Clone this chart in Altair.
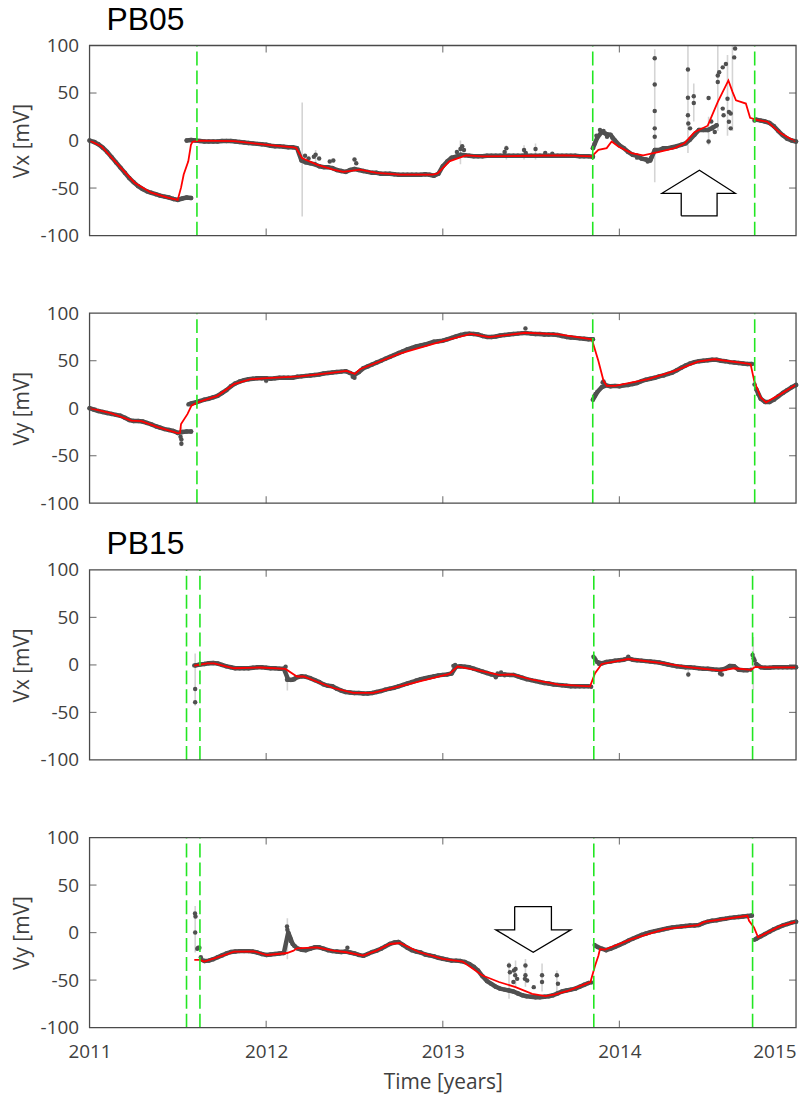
import altair as alt
import pandas as pd

# Sampling interval (years) of the regularly spaced potential readings
STEP = 0.025

YEAR_LABELS = [2011, 2012, 2013, 2014, 2015]
INNER_YEARS = [2012, 2013, 2014]
MV_LABELS = [-100, -50, 0, 50, 100]
INNER_MV = [-50, 0, 50]

# ---------------- PB05, Vx ----------------
pb05_vx_runs = [
    (2011.000, [0, -1.5, -4, -7.5, -12, -17.5, -23, -28.5, -34, -39.5, -44, -48, -51, -53.5,
                -55, -56.5, -58, -59, -60, -61.5, -62.5, -61, -60, -60.5]),
    (2011.550, [0, 0.5, 0, -0.5, -1, -1, -1, -1, -0.5, -0.5, -0.5, -1, -1.5, -2, -2.5, -3, -3.5,
                -4, -4.5, -5.5, -6, -6, -6.5, -7, -7, -8, -21, -23, -24, -25, -27, -28, -28, -29,
                -31, -32, -33, -31, -30, -31, -32, -33, -34, -34, -35, -35, -35, -35.5, -36, -36,
                -36, -36, -36, -36, -35.5, -36, -37, -35, -27, -22, -18, -17, -15, -15.5, -16,
                -16.5, -16.5, -16.5, -16, -16, -16, -16, -16, -16, -16, -16, -16, -16, -16, -16,
                -16, -16, -16, -16, -16, -16, -16, -16, -16, -16.5, -16.5, -16.5, -17]),
    (2013.850, [-8, 3, 9, 7, 6, 0, -5, -8, -12, -15, -16, -19, -20, -21, -10, -10, -8, -8, -7,
                -6, -4.5, -3, 1, 6, 11, 11, 11, 13, 16]),
    (2014.775, [22, 21, 20, 18.5, 15, 10, 5.5, 2, 0, -1]),
]
pb05_vx_extra = [
    (2012.22, -16), (2012.24, -19), (2012.27, -17), (2012.28, -15), (2012.30, -19),
    (2012.36, -22), (2012.38, -21), (2012.50, -20), (2012.51, -24), (2013.08, -12),
    (2013.10, -9), (2013.11, -6), (2013.12, -10), (2013.35, -12), (2013.36, -8),
    (2013.46, -10), (2013.47, -13), (2013.525, -9), (2013.58, -13), (2013.62, -14),
    (2013.86, -3), (2013.87, 5), (2013.89, 11), (2013.91, 10), (2013.93, 4), (2013.96, 3),
    (2014.10, -18), (2014.16, -22), (2014.18, -18),
    (2014.20, 86.5), (2014.20, 59), (2014.20, 31), (2014.20, 12.8), (2014.20, 4),
    (2014.388, 74.7), (2014.388, 45), (2014.421, 46.5), (2014.421, 39.6), (2014.388, 26.7),
    (2014.39, 18), (2014.40, 12.8), (2014.52, 20), (2014.53, 14), (2014.54, 9),
    (2014.505, -1), (2014.505, 44.8), (2014.557, 68.4), (2014.565, 71.9), (2014.585, 77),
    (2014.603, 80.5), (2014.557, 61.5), (2014.585, 33.6), (2014.59, 26.7), (2014.612, 44),
    (2014.62, 30), (2014.62, 19.8), (2014.63, 28.5), (2014.63, 12.8), (2014.65, 87.5),
    (2014.655, 96.9), (2014.765, 21),
]
pb05_vx_err = [
    (2012.204, -80, 40), (2014.20, -44, 96), (2014.388, -13, 100), (2014.421, 20, 60),
    (2014.505, -5, 25), (2014.557, 10, 100), (2014.612, 5, 90), (2014.64, 10, 100),
    (2013.10, -25, 0), (2013.36, -20, -5), (2013.46, -20, -5), (2012.28, -28, -10),
    (2013.525, -20, -3),
]
pb05_vx_fit = [
    (2011.0, 0), (2011.068, -6.3), (2011.161, -25.3), (2011.255, -44.4), (2011.349, -54.9),
    (2011.443, -60), (2011.499, -62.5), (2011.518, -49.6), (2011.533, -35.8), (2011.559, -21.9),
    (2011.574, -4.5), (2011.583, -1.4), (2011.62, 0), (2011.818, -0.7), (2012.006, -4.5),
    (2012.155, -7.3), (2012.17, -7.8), (2012.203, -18.4), (2012.287, -25.3), (2012.38, -30.6),
    (2012.437, -33), (2012.531, -30.6), (2012.625, -34), (2012.756, -35.8), (2012.943, -35.8),
    (2012.971, -34.5), (2013.037, -21.9), (2013.131, -15.6), (2013.225, -16.7), (2013.506, -16),
    (2013.694, -15.6), (2013.844, -16.7), (2013.881, -9.7), (2013.928, -8), (2013.956, -1),
    (2013.994, -6.25), (2014.069, -13.2), (2014.134, -15.6), (2014.219, -12.2), (2014.313, -8),
    (2014.369, -2.8), (2014.425, 8.7), (2014.5, 15.6), (2014.557, 40.6), (2014.617, 63.2),
    (2014.641, 51), (2014.66, 42.4), (2014.716, 38.9), (2014.74, 24), (2014.782, 21.5),
    (2014.838, 19.8), (2014.913, 7.6), (2014.997, -1),
]

# ---------------- PB05, Vy ----------------
pb05_vy_runs = [
    (2011.000, [0, -1.5, -3, -4, -5, -6, -7, -8, -10, -12.5, -13.5, -13.5, -14, -15.5, -17, -19,
                -20.5, -22, -23, -24, -26, -25, -24.5, -24.5]),
    (2011.575, [5, 6, 7.5, 9, 10, 11.5, 13, 16, 19, 23, 26, 28, 29.5, 30.5, 31, 31.5, 31.5, 31.5,
                31, 31.5, 32, 32, 32, 32, 33, 33.5, 34, 34.5, 35, 35.5, 36.5, 37, 37.5, 38, 38.5,
                39, 37, 35, 38, 42, 44, 46, 48, 50, 52, 54, 56, 58, 60, 62, 63.5, 65, 66, 67,
                68.5, 70, 70.5, 71, 72.5, 74, 75.5, 77, 78, 78.5, 78, 77.5, 76, 75, 75, 75.5,
                76.5, 77, 77.5, 78, 78.5, 79, 79, 78.5, 78, 78, 77.5, 77.5, 77.5, 77, 76, 75,
                74.5, 74, 73.5, 73, 72.5, 72.5]),
    (2013.850, [9, 17, 22, 24, 23, 23.5, 23, 24, 24.5, 25.5, 26.5, 28.5, 30, 31, 32, 33.5, 34.5,
                36, 37.5, 40, 42.5, 45, 47, 48.5, 49.5, 50, 50.5, 51, 51, 50, 49.5, 48.5, 48,
                47.5, 47, 46.5, 46.5]),
    (2014.775, [20, 10, 6.5, 6.5, 9, 12.5, 16, 19, 22, 24.5]),
]
pb05_vy_extra = [
    (2011.515, -30), (2011.52, -33), (2011.52, -37.5), (2011.56, 4), (2011.565, 4.5),
    (2012.0, 29), (2012.49, 33), (2012.50, 32), (2013.468, 84), (2013.86, 13), (2013.865, 15),
    (2013.905, 27), (2013.91, 28), (2013.915, 26), (2014.765, 25), (2014.785, 15),
]
pb05_vy_err = [(2011.52, -40, -20), (2013.468, 77, 86), (2012.0, 26, 34)]
pb05_vy_fit = [
    (2011.0, 0), (2011.124, -5.4), (2011.236, -13), (2011.293, -13.6), (2011.387, -20),
    (2011.499, -26.3), (2011.512, -26), (2011.518, -16.6), (2011.555, -6), (2011.577, 2.6),
    (2011.611, 6.1), (2011.724, 13), (2011.818, 25.3), (2011.912, 30.5), (2012.006, 31.6),
    (2012.193, 33.5), (2012.38, 37.5), (2012.455, 39.3), (2012.49, 37), (2012.502, 36),
    (2012.531, 41), (2012.756, 57.5), (2013.0, 70.7), (2013.159, 78.3), (2013.262, 74.9),
    (2013.468, 79.4), (2013.656, 77.7), (2013.844, 72.4), (2013.881, 49.7), (2013.91, 28.8),
    (2013.928, 23.6), (2013.975, 23.6), (2014.163, 30.5), (2014.313, 39.3), (2014.444, 49),
    (2014.538, 51.5), (2014.725, 47), (2014.743, 46.2), (2014.763, 28.8), (2014.8, 11.3),
    (2014.83, 6.1), (2014.913, 14.8), (2014.997, 24.3),
]

# ---------------- PB15, Vx ----------------
pb15_vx_runs = [
    (2011.600, [-0.5, 0.5, 1, 1.7, 2, 1.5, 0, -1.5, -2.5, -3.5, -3.5, -3.5, -3.5, -3, -2.5, -2.5,
                -3, -3.5, -3.5, -4, -4, -15.5, -15.5, -13, -12, -12.5, -14, -16, -18, -20.5,
                -22, -22.5, -25, -27, -28.5, -29, -29.5, -29.5, -30, -30, -29.5, -28.5, -27.5,
                -26, -25, -24, -22.5, -21, -19.5, -18, -16.5, -15, -14, -13, -12, -11, -10.5,
                -10, -9, -2, -1.5, -2, -2.5, -4, -5.5, -7, -8.5, -10, -11, -10, -10, -10.5,
                -10.5, -12, -13.5, -15, -16, -17, -18, -19, -19.5, -20.5, -21, -21.5, -22,
                -22.5, -22.5, -22.5, -22.5, -22.5]),
    (2013.875, [3, 1.5, 3, 3.5, 4.5, 5, 5.5, 7, 5.5, 5, 4.5, 4, 3.5, 3, 2.5, 1.5, 0.5, -0.5,
                -1.5, -2, -2.5, -2.5, -3, -3.5, -4, -4, -4.5, -5, -5, -4, -1, -1.5, -5, -5.5,
                -5.5]),
    (2014.775, [1, -2.5, -3, -3, -2.5, -2.5, -2.5, -2.5, -2.5, -2.5]),
]
pb15_vx_extra = [
    (2011.593, -0.5), (2011.598, -25.3), (2011.598, -39.2), (2012.11, -2), (2012.118, -15.6),
    (2012.14, -16), (2012.16, -15), (2013.06, -1), (2013.07, 0), (2013.30, -13),
    (2013.31, -9), (2013.33, -8), (2013.35, -11), (2013.84, -23), (2013.853, 8.7),
    (2013.86, 7), (2013.865, 5.5), (2013.885, 1), (2014.05, 8.7), (2014.39, -10),
    (2014.57, -9), (2014.58, -10), (2014.745, -5), (2014.754, 10.4), (2014.76, 7),
    (2014.765, 5), (2014.785, -1),
]
pb15_vx_err = [(2011.598, -43, 12), (2012.12, -27, -4), (2014.758, -26, 29.5), (2014.39, -13, -3)]
pb15_vx_fit = [
    (2011.593, -0.7), (2011.668, 1.7), (2011.705, 1.7), (2011.818, -3.5), (2011.968, -2.7),
    (2012.109, -4.2), (2012.174, -12.2), (2012.212, -12), (2012.38, -24.3), (2012.493, -29.5),
    (2012.606, -29.5), (2012.756, -22.6), (2013.037, -9.4), (2013.084, -1.7), (2013.187, -5.2),
    (2013.318, -10.4), (2013.393, -10), (2013.506, -15.6), (2013.656, -20.8), (2013.834, -22.6),
    (2013.862, -8.7), (2013.9, 1), (2014.05, 6.2), (2014.256, 1.7), (2014.388, -2.4),
    (2014.575, -5.9), (2014.65, -3.5), (2014.744, -5.2), (2014.77, -2), (2014.82, -2.5),
    (2014.997, -2.5),
]

# ---------------- PB15, Vy ----------------
pb15_vy_runs = [
    (2011.650, [-30, -29.5, -28, -26, -24, -22, -20.5, -20, -19.5, -19.5, -19.5, -20, -21, -22.5,
                -23.5, -23, -22.5, -22, -21.5, 0, -12, -16.5, -18, -18.5, -17, -15.5, -15.5,
                -17, -18.5, -19.5, -20, -20.5, -20, -21, -22, -23.5, -24.5, -22.5, -20.5, -19,
                -17, -14.5, -12, -10.5, -10, -13, -16, -18.5, -20, -21, -23, -24, -25, -26.5,
                -27.5, -28.5, -29.5, -29.5, -30, -31, -33, -36, -40, -46, -51, -54, -57, -59,
                -60, -61, -62, -64, -66, -67, -67.5, -68, -68, -67.5, -67, -66, -64, -62, -61,
                -60, -59, -57, -55, -53]),
    (2013.875, [-15, -17, -18.5, -17, -15, -13, -11, -8.5, -6.5, -4.5, -2.5, -1, 0.5, 1.5, 2.5,
                3.5, 4.5, 5.5, 6, 6.5, 7, 7.5, 7.5, 8, 10, 11.5, 12.5, 13, 14, 14.5, 15.5, 16,
                16.5, 17, 17.5, 18]),
    (2014.775, [-6.5, -4, -1.5, 1, 3.5, 5.5, 7.5, 9, 10.5, 11.5]),
]
pb15_vy_extra = [
    (2011.597, 20), (2011.600, 17), (2011.598, 0), (2011.610, -17), (2011.615, -16),
    (2011.622, -16), (2011.630, -26), (2011.640, -29), (2012.118, 6.5), (2012.120, 3),
    (2012.130, -3), (2012.137, -6), (2012.140, -9), (2012.160, -14), (2012.460, -16),
    (2013.375, -34.7), (2013.380, -41.7), (2013.403, -40), (2013.412, -38.2), (2013.410, -45),
    (2013.421, -48.7), (2013.400, -52), (2013.468, -34.7), (2013.468, -45), (2013.478, -50.4),
    (2013.465, -48.7), (2013.515, -57.4), (2013.562, -45), (2013.562, -52), (2013.646, -45),
    (2013.652, -53.9), (2013.840, -52.5), (2013.860, -13), (2013.865, -14), (2014.765, -7.5),
]
pb15_vy_err = [
    (2011.598, -21, 28), (2012.12, -28, 15), (2013.375, -69.6, -31.2), (2013.412, -57, -29.5),
    (2013.468, -57, -27.8), (2013.562, -62, -32.6), (2013.646, -64.5, -40),
]
pb15_vy_fit = [
    (2011.593, -28.8), (2011.625, -28.8), (2011.649, -30.5), (2011.724, -26), (2011.818, -20),
    (2011.93, -19.7), (2012.006, -23.6), (2012.118, -21.5), (2012.155, -19), (2012.174, -16.6),
    (2012.287, -15.5), (2012.38, -19), (2012.455, -20.7), (2012.549, -24.3), (2012.625, -19),
    (2012.7, -12), (2012.756, -11), (2012.868, -20.7), (2013.0, -27.7), (2013.112, -30.5),
    (2013.225, -45.2), (2013.318, -52), (2013.412, -57.4), (2013.506, -64.4), (2013.581, -66.8),
    (2013.637, -65.1), (2013.712, -61), (2013.825, -52.9), (2013.836, -52), (2013.862, -34.8),
    (2013.881, -24.3), (2013.89, -17.3), (2013.918, -18), (2014.069, -6.8), (2014.256, 3.7),
    (2014.444, 7.8), (2014.481, 11.3), (2014.725, 17.6), (2014.734, 12.4), (2014.762, 5.4),
    (2014.785, -5), (2014.82, -1.6), (2014.913, 7.1), (2014.997, 11.3),
]

# Instrument interventions (vertical dashed lines)
pb05_breaks = [2011.608, 2013.849, 2014.766]
pb15_breaks = [2011.549, 2011.625, 2013.855, 2014.754]

# Outline of the annotation arrows (time, mV)
arrow_up = [(2014.350, -79.2), (2014.350, -55.5), (2014.241, -55.5), (2014.453, -31.3),
            (2014.656, -55.5), (2014.553, -55.5), (2014.553, -79.2), (2014.350, -79.2)]
arrow_down = [(2013.407, 27.4), (2013.615, 27.4), (2013.615, 2.9), (2013.725, 2.9),
              (2013.512, -20.7), (2013.300, 2.9), (2013.407, 2.9), (2013.407, 27.4)]

# ---------------- styling ----------------
W, H, GAP_BELOW = 710, 191, 11
GRAY, ERRC, RED, GREEN, FRAME, TXT = "#505050", "#d4d4d4", "#ff0000", "#22e622", "#4a4a4a", "#404040"
FONT = "Open Sans"


def run_frame(runs):
    rows = []
    for k, (t0, vals) in enumerate(runs):
        for i, v in enumerate(vals):
            rows.append({"run": k, "t": round(t0 + i * STEP, 4), "v": v})
    return pd.DataFrame(rows)


def panel(runs, extra, err, fit, breaks, ytitle, name=None, arrow=None, bottom=False):
    xscale = alt.Scale(domain=[2011, 2015], nice=False, zero=False)
    yscale = alt.Scale(domain=[-100, 100], range=[H, 0], nice=False, zero=False)
    if bottom:
        xaxis = alt.Axis(values=YEAR_LABELS, ticks=False, domain=False, grid=False,
                         labelExpr="'' + datum.value",
                         labelAlign={"expr": "datum.value >= 2015 ? 'right' : 'center'"},
                         labelFont=FONT, labelFontSize=19, labelColor=TXT, labelPadding=15,
                         titleFont=FONT, titleFontSize=21, titleFontWeight="normal",
                         titleColor=TXT, titlePadding=10)
        xtitle = "Time [years]"
    else:
        xaxis = None
        xtitle = None
    yaxis = alt.Axis(values=MV_LABELS, ticks=False, domain=False, grid=False,
                     labelExpr="datum.value < 0 ? '-' + abs(datum.value) : '' + datum.value",
                     labelFont=FONT, labelFontSize=19, labelColor=TXT, labelPadding=11,
                     titleFont=FONT, titleFontSize=21, titleFontWeight="normal",
                     titleColor=TXT, titlePadding=8)

    def X(field="t"):
        if xtitle:
            return alt.X(f"{field}:Q", scale=xscale, axis=xaxis, title=xtitle)
        return alt.X(f"{field}:Q", scale=xscale, axis=xaxis)

    def Y(field="v"):
        return alt.Y(f"{field}:Q", scale=yscale, axis=yaxis, title=ytitle)

    run_df = run_frame(runs)
    ext_df = pd.DataFrame(extra, columns=["t", "v"])
    err_df = pd.DataFrame(err, columns=["t", "v", "hi"])
    fit_df = pd.DataFrame(fit, columns=["t", "v"])
    brk_df = pd.DataFrame({"t": breaks, "v": [-100] * len(breaks), "hi": [100] * len(breaks)})
    box_df = pd.DataFrame({"t": [2011], "t2": [2015], "v": [-100], "hi": [100]})
    xt_bot = pd.DataFrame({"t": INNER_YEARS, "v": [-100] * 3})
    xt_top = pd.DataFrame({"t": INNER_YEARS, "v": [100] * 3})
    yt_left = pd.DataFrame({"t": [2011] * 3, "v": INNER_MV})
    yt_right = pd.DataFrame({"t": [2015] * 3, "v": INNER_MV})

    layers = [
        alt.Chart(err_df).mark_rule(color=ERRC, strokeWidth=1.6, clip=True).encode(
            x=X(), y=Y(), y2=alt.Y2("hi:Q")),
        # dense readings merge into a continuous band
        alt.Chart(run_df).mark_line(color=GRAY, strokeWidth=4.5, strokeJoin="round",
                                    strokeCap="round").encode(x=X(), y=Y(), detail="run:N"),
        alt.Chart(run_df).mark_circle(size=20, color=GRAY, opacity=1).encode(x=X(), y=Y()),
        alt.Chart(ext_df).mark_circle(size=20, color=GRAY, opacity=1).encode(x=X(), y=Y()),
        alt.Chart(fit_df).mark_line(color=RED, strokeWidth=1.8).encode(x=X(), y=Y()),
        alt.Chart(brk_df).mark_rule(color=GREEN, strokeWidth=1.6, strokeDash=[14, 5]).encode(
            x=X(), y=Y(), y2=alt.Y2("hi:Q")),
        alt.Chart(box_df).mark_rect(fillOpacity=0, stroke=FRAME, strokeWidth=1.3).encode(
            x=X(), x2=alt.X2("t2:Q"), y=Y(), y2=alt.Y2("hi:Q")),
        alt.Chart(xt_bot).mark_tick(orient="vertical", size=7, thickness=1.2, yOffset=-3.5,
                                    color=FRAME).encode(x=X(), y=Y()),
        alt.Chart(xt_top).mark_tick(orient="vertical", size=7, thickness=1.2, yOffset=3.5,
                                    color=FRAME).encode(x=X(), y=Y()),
        alt.Chart(yt_left).mark_tick(orient="horizontal", size=7, thickness=1.2, xOffset=3.5,
                                     color=FRAME).encode(x=X(), y=Y()),
        alt.Chart(yt_right).mark_tick(orient="horizontal", size=7, thickness=1.2, xOffset=-3.5,
                                      color=FRAME).encode(x=X(), y=Y()),
    ]
    if arrow is not None:
        arr_df = pd.DataFrame([{"i": i, "t": t, "v": v} for i, (t, v) in enumerate(arrow)])
        layers.append(alt.Chart(arr_df).mark_line(color="black", strokeWidth=1.3).encode(
            x=X(), y=Y(), order="i:Q"))
    if name is not None:
        layers.append(alt.Chart(pd.DataFrame({"label": [name]})).mark_text(
            align="left", baseline="alphabetic", fontSize=32, font="Liberation Sans",
            color="black").encode(x=alt.value(17), y=alt.value(-16), text="label:N"))

    height = H if bottom or name is None else H + GAP_BELOW
    return alt.layer(*layers).properties(width=W, height=height)


p1 = panel(pb05_vx_runs, pb05_vx_extra, pb05_vx_err, pb05_vx_fit, pb05_breaks, "Vx [mV]",
           name="PB05", arrow=arrow_up)
p2 = panel(pb05_vy_runs, pb05_vy_extra, pb05_vy_err, pb05_vy_fit, pb05_breaks, "Vy [mV]")
p3 = panel(pb15_vx_runs, pb15_vx_extra, pb15_vx_err, pb15_vx_fit, pb15_breaks, "Vx [mV]",
           name="PB15")
p4 = panel(pb15_vy_runs, pb15_vy_extra, pb15_vy_err, pb15_vy_fit, pb15_breaks, "Vy [mV]",
           arrow=arrow_down, bottom=True)

chart = alt.vconcat(p1, p2, p3, p4, spacing=67, bounds="flush").properties(
    padding={"left": 11, "top": 1, "right": 2, "bottom": 2}
).configure_view(strokeWidth=0)

chart.save("out.html", embed_options={"renderer": "svg", "actions": False})
